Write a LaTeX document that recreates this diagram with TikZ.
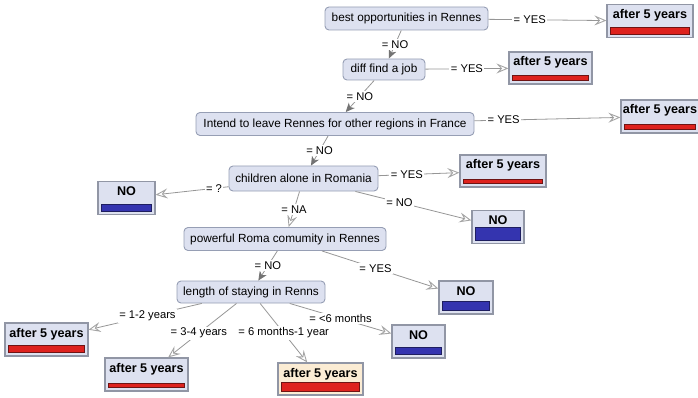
\documentclass[tikz,border=0pt]{standalone}
\usepackage{fontspec}
\setmainfont{Liberation Sans}
\usetikzlibrary{arrows.meta,calc}

\definecolor{boxfill}{RGB}{221,225,240}
\definecolor{beige}{RGB}{251,236,212}
\definecolor{decline}{RGB}{150,158,180}
\definecolor{leafline}{RGB}{145,150,165}
\definecolor{edgegray}{RGB}{150,150,150}
\definecolor{tipgray}{RGB}{165,165,165}
\definecolor{tipdark}{RGB}{115,115,115}
\definecolor{barred}{RGB}{222,34,30}
\definecolor{barreddark}{RGB}{110,20,20}
\definecolor{barblue}{RGB}{52,52,175}
\definecolor{barbluedark}{RGB}{30,30,95}

\tikzset{
  dec/.style={draw=decline, fill=boxfill, rounded corners=4pt, line width=0.9pt,
    minimum height=23pt, inner xsep=4pt, inner ysep=2pt,
    font=\fontsize{11.8}{13}\selectfont},
  leaf/.style={draw=leafline, fill=boxfill, line width=1.2pt,
    text height=10pt, text depth=15pt, inner ysep=4pt, inner xsep=1pt,
    font=\bfseries\fontsize{12.6}{14}\selectfont},
  bar/.style n args={3}{path picture={
    \fill[draw=#2, fill=#1, line width=0.6pt]
      ($(path picture bounding box.south west)+(3.5pt,3.5pt)$) rectangle
      ($(path picture bounding box.south east)+({-3.5pt},{3.5pt+#3})$);}},
  redbar/.style={bar={barred}{barreddark}{#1}},
  bluebar/.style={bar={barblue}{barbluedark}{#1}},
  edge/.style={draw=edgegray, line width=0.8pt,
    -{Stealth[open, length=12pt, width=10pt, inset=4.5pt, line width=0.9pt, color=tipgray]}},
  downedge/.style={draw=edgegray, line width=0.8pt,
    -{Stealth[length=9pt, width=8pt, inset=2.5pt, color=tipdark]}},
  elabel/.style={fill=white, inner sep=1.5pt, font=\fontsize{11.2}{13}\selectfont}
}

\begin{document}
\begin{tikzpicture}[x=1pt, y=-1pt]
  \useasboundingbox (0,0) rectangle (698,398);
  \clip (0,0) rectangle (698,398);

  % decision nodes
  \node[dec, minimum width=163pt] (best)     at (406.5,18.5) {best opportunities in Rennes};
  \node[dec, minimum width=82pt, minimum height=21pt] (diff) at (384,69.5) {diff find a job};
  \node[dec, minimum width=278pt] (intend)   at (335,124) {Intend to leave Rennes for other regions in France};
  \node[dec, minimum width=149pt, minimum height=25pt] (children) at (303.5,178.5) {children alone in Romania};
  \node[dec, minimum width=202pt] (powerful) at (285,239) {powerful Roma comumity in Rennes};
  \node[dec, minimum width=148pt, minimum height=22pt] (length) at (251,292) {length of staying in Renns};

  % leaves
  \node[leaf, minimum width=86pt, redbar=7pt]  (leafA) at (650,21)    {after 5 years};
  \node[leaf, minimum width=83pt, text depth=14pt, redbar=5pt] (leafB) at (550.5,68) {after 5 years};
  \node[leaf, minimum width=78pt, redbar=5pt]  (leafC) at (660,116.5) {after 5 years};
  \node[leaf, minimum width=86pt, text depth=14pt, redbar=4pt] (leafD) at (503,171) {after 5 years};
  \node[leaf, minimum width=57pt, bluebar=7pt] (noL)   at (126.5,198) {NO};
  \node[leaf, minimum width=52pt, bluebar=13pt] (noR)  at (498,227)   {NO};
  \node[leaf, minimum width=54pt, bluebar=9pt] (noY)   at (466,297.5) {NO};
  \node[leaf, minimum width=83pt, redbar=7pt]  (yr12)  at (46.5,339.5) {after 5 years};
  \node[leaf, minimum width=83pt, redbar=4pt]  (yr34)  at (146.5,374.5) {after 5 years};
  \node[leaf, minimum width=85pt, text depth=14pt, fill=beige, redbar=9pt] (mo6) at (320.5,379) {after 5 years};
  \node[leaf, minimum width=53pt, bluebar=7pt] (lt6)   at (418.5,341.5) {NO};

  % branches
  \draw[edge]     (best) -- node[elabel, pos=0.35] {= YES} (leafA);
  \draw[downedge] (best) -- node[elabel, pos=0.5] {= NO} (diff);
  \draw[edge]     (diff) -- node[elabel, pos=0.5] {= YES} (leafB);
  \draw[downedge] (diff) -- node[elabel, pos=0.5] {= NO} (intend);
  \draw[edge]     (intend) -- node[elabel, pos=0.2] {= YES} (leafC);
  \draw[downedge] (intend) -- node[elabel, pos=0.5] {= NO} (children);
  \draw[edge]     (children) -- node[elabel, pos=0.2] {= ?} (noL);
  \draw[edge]     (children) -- node[elabel, pos=0.35] {= YES} (leafD);
  \draw[edge]     (children) -- node[elabel, pos=0.38] {= NO} (noR);
  \draw[edge]     (children) -- node[elabel, pos=0.5] {= NA} (powerful);
  \draw[downedge] (powerful) -- node[elabel, pos=0.5] {= NO} (length);
  \draw[edge]     (powerful) -- node[elabel, pos=0.46] {= YES} (noY);
  \draw[edge]     (length) -- node[elabel, pos=0.48] {= 1-2 years} (yr12);
  \draw[edge]     (length) -- node[elabel, pos=0.55] {= 3-4 years} (yr34);
  \draw[edge]     (length) -- node[elabel, pos=0.5] {= 6 months-1 year} (mo6);
  \draw[edge]     (length) -- node[elabel, pos=0.5] {= <6 months} (lt6);
\end{tikzpicture}
\end{document}
